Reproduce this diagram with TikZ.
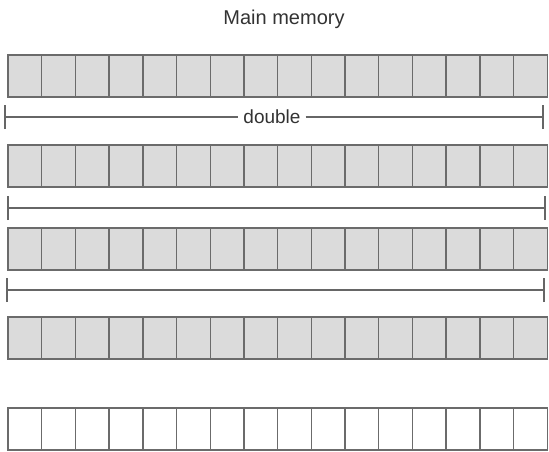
\documentclass[tikz,border=0pt]{standalone}
\usepackage{fontspec}
\setmainfont{Liberation Sans}
\begin{document}
\begin{tikzpicture}[x=1pt,y=-1pt,
  cellfill/.style={draw=black!58,fill=black!14,line width=1.4pt},
  cellempty/.style={draw=black!58,fill=white,line width=1.4pt},
  bracketline/.style={draw=black!60,line width=1.2pt},
  lbl/.style={font=\fontsize{19}{22}\selectfont,text=black!80,inner sep=3pt}]
\useasboundingbox (0,0) rectangle (549,452);
\def\cw{33.7}
\foreach \top in {55,145,228,317}{
  \foreach \i in {0,...,15}{
    \draw[cellfill] (8+\i*\cw,\top) rectangle (8+\i*\cw+\cw,\top+42);
  }
}
\foreach \i in {0,...,15}{
  \draw[cellempty] (8+\i*\cw,408) rectangle (8+\i*\cw+\cw,450);
}
\node[lbl,font=\fontsize{20}{24}\selectfont] (title) at (284,19) {Main memory};
% bracket 1
\coordinate (b1l) at (5,117);
\coordinate (b1r) at (543,117);
\node[lbl,inner sep=5pt] (dbl) at (272,117) {double};
\draw[bracketline] (b1l) -- (dbl.west);
\draw[bracketline] (dbl.east) -- (b1r);
\draw[bracketline] ([yshift=-12pt]b1l) -- ([yshift=12pt]b1l);
\draw[bracketline] ([yshift=-12pt]b1r) -- ([yshift=12pt]b1r);
% bracket 2
\coordinate (b2l) at (8,208);
\coordinate (b2r) at (545,208);
\draw[bracketline] (b2l) -- (b2r);
\draw[bracketline] ([yshift=-12pt]b2l) -- ([yshift=12pt]b2l);
\draw[bracketline] ([yshift=-12pt]b2r) -- ([yshift=12pt]b2r);
% bracket 3
\coordinate (b3l) at (7,290);
\coordinate (b3r) at (544,290);
\draw[bracketline] (b3l) -- (b3r);
\draw[bracketline] ([yshift=-12pt]b3l) -- ([yshift=12pt]b3l);
\draw[bracketline] ([yshift=-12pt]b3r) -- ([yshift=12pt]b3r);
\end{tikzpicture}
\end{document}
